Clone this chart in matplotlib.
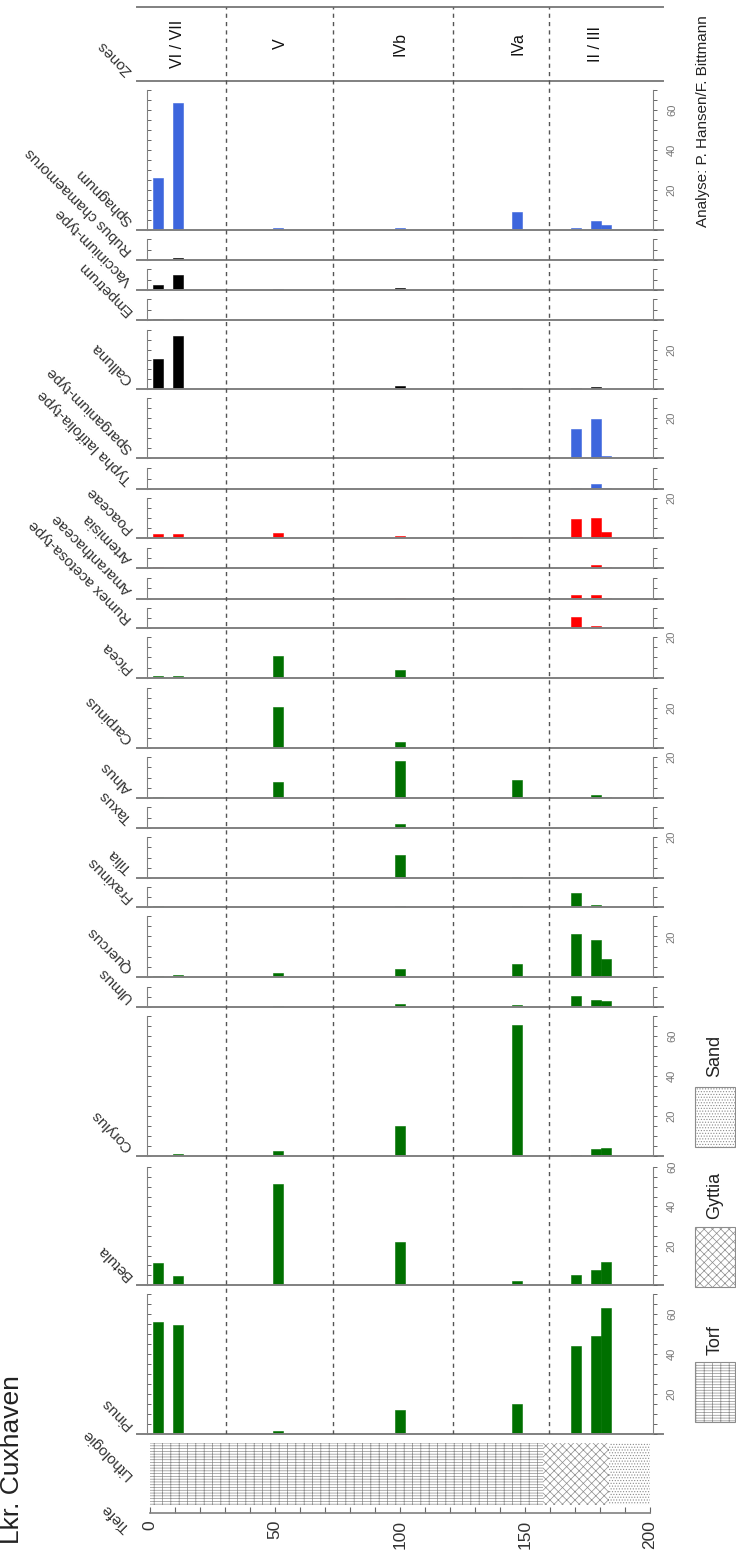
import matplotlib
matplotlib.use("Agg")
import matplotlib.pyplot as plt
from matplotlib.patches import Rectangle
from matplotlib.ticker import FixedLocator, MultipleLocator, NullFormatter

plt.rcParams["font.family"] = ["Liberation Sans", "DejaVu Sans"]
plt.rcParams["hatch.linewidth"] = 0.5

W, H = 736, 1556

# sample depths (cm) and percentages per taxon
depth = [3.3, 11.3, 51, 100, 146.7, 170.5, 178.3, 182.5]

pinus = [56, 54.5, 1.5, 12, 15, 44, 49, 63]
betula = [11.3, 4.5, 51.5, 22, 2, 5, 7.7, 11.8]
corylus = [0, 1.2, 2.7, 15, 65.5, 0.7, 3.5, 4]
ulmus = [0, 0, 0.5, 1.5, 1, 5.5, 3.7, 3.2]
quercus = [0.3, 0.8, 2.2, 3.8, 6.5, 21, 18, 9]
fraxinus = [0.4, 0, 0, 0.3, 0.3, 6.8, 1, 0]
tilia = [0, 0, 0, 11, 0.5, 0, 0, 0]
taxus = [0, 0, 0, 2, 0, 0, 0, 0]
alnus = [0.3, 0, 7.8, 18.2, 8.7, 0, 1.5, 0.5]
carpinus = [0, 0, 20.7, 3.2, 0, 0, 0, 0]
picea = [0.8, 1.2, 10.7, 4, 0, 0, 0, 0]
rumex = [0, 0, 0, 0, 0, 5.5, 0.8, 0]
amaranth = [0, 0, 0, 0.3, 0, 2, 1.7, 0.5]
artemisia = [0.3, 0, 0, 0, 0, 0, 1.6, 0.4]
poaceae = [1.8, 1.8, 2.3, 1, 0.3, 9.3, 9.8, 3.2]
typha = [0, 0, 0, 0, 0, 0.7, 2.3, 0.7]
sparganium = [0, 0, 0, 0, 0, 14.5, 19.5, 1]
calluna = [15.3, 27, 0, 1.5, 0.3, 0.3, 0.8, 0]
empetrum = [0.6, 0.6, 0, 0, 0, 0, 0, 0]
vaccinium = [2.5, 7, 0.3, 0.8, 0, 0, 0, 0]
rubus = [0, 0.8, 0, 0, 0, 0, 0, 0]
sphagnum = [26, 63.7, 0.8, 1, 8.8, 0.8, 4.5, 2.5]

GREEN, RED, BLUE, BLACK = "#007000", "#ff0000", "#3d66dd", "#000000"

# name, values, axis max, colour, (top px, baseline px)
panels = [
    ("Pinus", pinus, 70, GREEN, (1294, 1434)),
    ("Betula", betula, 60, GREEN, (1167, 1285)),
    ("Corylus", corylus, 70, GREEN, (1016, 1156)),
    ("Ulmus", ulmus, 10, GREEN, (987, 1007)),
    ("Quercus", quercus, 30, GREEN, (916, 977)),
    ("Fraxinus", fraxinus, 10, GREEN, (887, 907)),
    ("Tilia", tilia, 20, GREEN, (837, 878)),
    ("Taxus", taxus, 10, GREEN, (807, 828)),
    ("Alnus", alnus, 20, GREEN, (757, 798)),
    ("Carpinus", carpinus, 30, GREEN, (688, 748)),
    ("Picea", picea, 20, GREEN, (637, 678)),
    ("Rumex acetosa-type", rumex, 10, RED, (608, 628)),
    ("Amaranthaceae", amaranth, 10, RED, (578, 599)),
    ("Artemisia", artemisia, 10, RED, (548, 568)),
    ("Poaceae", poaceae, 20, RED, (498, 538)),
    ("Typha latifolia-type", typha, 10, BLUE, (468, 489)),
    ("Sparganium-type", sparganium, 30, BLUE, (398, 458)),
    ("Calluna", calluna, 30, BLACK, (330, 389)),
    ("Empetrum", empetrum, 10, BLACK, (299, 320)),
    ("Vaccinium-type", vaccinium, 10, BLACK, (269, 290)),
    ("Rubus chamaemorus", rubus, 10, BLACK, (239, 260)),
    ("Sphagnum", sphagnum, 70, BLUE, (90, 230)),
]

zone_names = ["VI / VII", "V", "IVb", "IVa", "II / III"]
zone_pos = [11, 52, 100, 147, 178]
zone_bounds = [30.3, 73, 121, 159.6]

lith_names = ["Torf", "Gyttia", "Sand"]
lith_from = [0, 157, 183.5]
lith_to = [157, 183.5, 200]
lith_hatch = ["------||", "xxxx", "......"]

XL, XR = 137, 663
XLIM = (-5.2, 205.2)
GRAY = "#808080"


def rect(top, bottom, left=XL, right=XR):
    return [left / W, 1 - bottom / H, (right - left) / W, (bottom - top) / H]


fig = plt.figure(figsize=(W / 100, H / 100), dpi=100)

for name, vals, vmax, col, (top, base) in panels:
    ax = fig.add_axes(rect(top, base))
    ax.set_xlim(*XLIM)
    ax.set_ylim(0, vmax)
    ax.patch.set_alpha(0)
    ax.bar(depth, vals, width=4, color=col, edgecolor=col, linewidth=0.4)
    ax.spines["top"].set_visible(False)
    ax.spines["right"].set_visible(False)
    ax.spines["bottom"].set_color(GRAY)
    ax.spines["bottom"].set_linewidth(1.4)
    ax.spines["left"].set_position(("data", -1.2))
    ax.spines["left"].set_bounds(0, vmax)
    ax.spines["left"].set_color(GRAY)
    ax.spines["left"].set_linewidth(0.8)
    ax.set_xticks([])
    ax.yaxis.set_major_locator(MultipleLocator(5))
    ax.yaxis.set_major_formatter(NullFormatter())
    ax.tick_params(axis="y", direction="in", length=3, width=0.7, color="#666666")

    axr = ax.twinx()
    axr.set_ylim(0, vmax)
    axr.patch.set_alpha(0)
    for s in ("top", "bottom", "left"):
        axr.spines[s].set_visible(False)
    axr.spines["right"].set_position(("data", 201.2))
    axr.spines["right"].set_bounds(0, vmax)
    axr.spines["right"].set_color(GRAY)
    axr.spines["right"].set_linewidth(0.8)
    axr.yaxis.set_major_locator(FixedLocator([v for v in (20, 40, 60) if v <= vmax]))
    axr.yaxis.set_minor_locator(MultipleLocator(5))
    axr.tick_params(axis="y", which="both", direction="out", length=3, width=0.7,
                    color="#666666", labelsize=8, labelcolor="#777777", pad=7,
                    labelrotation=90)
    for t in axr.get_yticklabels():
        t.set_va("center")

    fig.text((XL - 2) / W, 1 - (base - 2) / H, name, rotation=135, ha="right",
             va="bottom", fontsize=11, color="#333333")

# zones strip
axz = fig.add_axes(rect(7, 81))
axz.set_xlim(*XLIM)
axz.set_ylim(0, 1)
axz.patch.set_alpha(0)
axz.set_xticks([])
axz.set_yticks([])
for s in ("left", "right"):
    axz.spines[s].set_visible(False)
for s in ("top", "bottom"):
    axz.spines[s].set_color(GRAY)
    axz.spines[s].set_linewidth(1.4)
for zn, zp in zip(zone_names, zone_pos):
    axz.text(zp, 0.5, zn, rotation=90, ha="center", va="center", fontsize=11.5,
             color="#111111")
fig.text((XL - 2) / W, 1 - 78 / H, "Zones", rotation=135, ha="right", va="bottom",
         fontsize=11, color="#333333")

# lithology column
axl = fig.add_axes(rect(1443, 1505))
axl.set_xlim(*XLIM)
axl.set_ylim(0, 1)
axl.axis("off")
for a, b, hch in zip(lith_from, lith_to, lith_hatch):
    axl.bar(a, 1, width=b - a, align="edge", facecolor="white", edgecolor="#8c8c8c",
            linewidth=0, hatch=hch)
fig.text((XL - 2) / W, 1 - 1482 / H, "Lithologie", rotation=135, ha="right",
         va="bottom", fontsize=11, color="#333333")

# depth axis
axd = fig.add_axes(rect(1480, 1513))
axd.set_xlim(*XLIM)
axd.patch.set_alpha(0)
for s in ("left", "right", "top"):
    axd.spines[s].set_visible(False)
axd.spines["bottom"].set_bounds(0, 200)
axd.spines["bottom"].set_color(GRAY)
axd.spines["bottom"].set_linewidth(1.2)
axd.set_yticks([])
axd.set_xticks([0, 50, 100, 150, 200])
axd.xaxis.set_minor_locator(MultipleLocator(10))
axd.tick_params(axis="x", which="both", direction="in", length=4, width=0.8,
                color="#666666", labelsize=12.5, labelcolor="#333333", pad=5,
                labelrotation=90)
fig.text((XL - 4) / W, 1 - 1535 / H, "Tiefe", rotation=135, ha="right", va="bottom",
         fontsize=11, color="#333333")

# zone boundaries across all panels
axo = fig.add_axes(rect(7, 1434))
axo.set_xlim(*XLIM)
axo.set_ylim(0, 1)
axo.axis("off")
axo.vlines(zone_bounds, 0, 1, colors="#555555", linestyles=(0, (3, 3)), linewidth=1)

# lithology legend
leg_top = [1362, 1227, 1087]
leg_lab = [1340, 1195, 1056]
for name, hch, t, ly in zip(lith_names, lith_hatch, leg_top, leg_lab):
    fig.add_artist(Rectangle((695 / W, 1 - (t + 60) / H), 40 / W, 60 / H,
                             transform=fig.transFigure, facecolor="white",
                             edgecolor="#8c8c8c", linewidth=0.8, hatch=hch))
    fig.text(715 / W, 1 - ly / H, name, rotation=90, ha="center", va="center",
             fontsize=13, color="#222222")

fig.text(703 / W, 1 - 121 / H, "Analyse: P. Hansen/F. Bittmann", rotation=90,
         ha="center", va="center", fontsize=11, color="#222222")
fig.text(12 / W, 1 - 1375 / H, "Lkr. Cuxhaven", rotation=90, ha="center", va="top",
         fontsize=19, color="#222222")

fig.savefig("out.png", dpi=100)
